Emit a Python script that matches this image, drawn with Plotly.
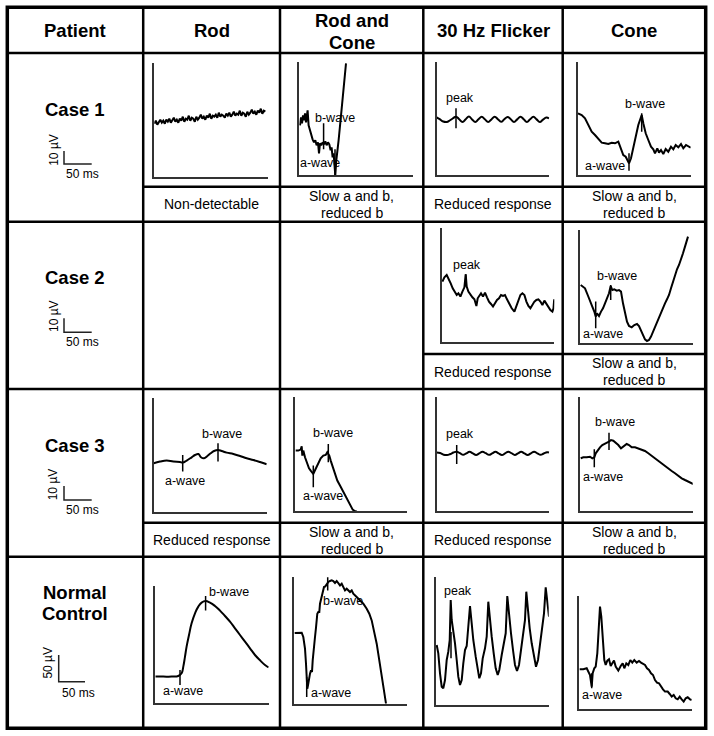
import plotly.graph_objects as go

# ---------------- table text ----------------
col_headers = ["Patient", "Rod", "Rod and|Cone", "30 Hz Flicker", "Cone"]
row_labels = ["Case 1", "Case 2", "Case 3", "Normal|Control"]
scale_v_labels = ["10 µV", "10 µV", "10 µV", "50 µV"]
scale_h_label = "50 ms"
comments_case1 = ["Non-detectable", "Slow a and b,|reduced b", "Reduced response", "Slow a and b,|reduced b"]
comments_case2 = ["", "", "Reduced response", "Slow a and b,|reduced b"]
comments_case3 = ["Reduced response", "Slow a and b,|reduced b", "Reduced response", "Slow a and b,|reduced b"]

# ---------------- traces (time offset, amplitude offset) ----------------
c1_rod_x = [0, 1.5, 3, 4.5, 6, 7.5, 9, 10.5, 12, 13.5, 15, 16.5, 18, 19.5, 21, 22.5, 24, 25.5, 27, 28.5,
            30, 31.5, 33, 34.5, 36, 37.5, 39, 40.5, 42, 43.5, 45, 46.5, 48, 49.5, 51, 52.5, 54, 55.5, 57, 58.5,
            60, 61.5, 63, 64.5, 66, 67.5, 69, 70.5, 72, 73.5, 75, 76.5, 78, 79.5, 81, 82.5, 84, 85.5, 87, 88.5,
            90, 91.5, 93, 94.5, 96, 97.5, 99, 100.5, 102, 103.5, 105, 106.5, 108, 109.5, 111]
c1_rod_y = [53, 56, 52, 55, 57, 54, 56, 53, 57, 55, 58, 54, 56, 59, 55, 57, 54, 58, 56, 60,
            55, 58, 57, 61, 56, 59, 58, 55, 60, 57, 59, 62, 58, 60, 57, 61, 59, 63, 58, 61,
            60, 62, 59, 64, 60, 62, 61, 59, 63, 61, 64, 60, 62, 65, 61, 63, 62, 66, 61, 64,
            63, 60, 65, 62, 64, 67, 63, 65, 62, 66, 64, 68, 63, 66, 65]

c1_rc_x = [0.7, 1.7, 2.7, 3.7, 4.7, 5.7, 6.7, 7.7, 8.3, 9.3, 10.7, 12, 13.3, 14.7, 16, 17.3, 18.7, 19.7, 20.7, 22,
           23.3, 24.7, 26, 27.3, 28.7, 30, 31.3, 32.3, 33.3, 34.3, 35.3, 36, 37, 38, 39.3, 42.3, 46.7]
c1_rc_y = [50, 58, 52, 60, 55, 62, 53, 60, 65, 50, 44, 40, 36, 33, 35, 30, 33, 22, 32, 30,
           33, 31, 34, 30, 33, 31, 25, 28, 18, 22, 5, 0, 15, 22, 35, 66, 112]

c1_flk_x = [0, 3, 6.5, 10, 13, 16, 19.3, 22.5, 25.8, 29, 32.2, 35.4, 38.6, 41.8, 45, 48.2, 51.5, 54.7, 58, 61.2,
            64.4, 67.6, 70.9, 74.1, 77.3, 80.5, 83.8, 87, 90.2, 93.4, 96.7, 99.9, 103.1, 106.3, 109.6, 112.3]
c1_flk_y = [57.5, 55.8, 53.5, 53, 54.5, 56.5, 58.3, 55.8, 53, 55.7, 58.4, 55.6, 53.1, 55.8, 58.2, 55.7, 52.9, 55.6,
            58.3, 55.8, 53.2, 55.7, 58.1, 55.7, 53, 55.6, 58.3, 55.8, 53.1, 55.7, 58.2, 55.6, 53, 55.4, 57.5, 56.5]

c1_cone_x = [0, 3.7, 7, 10.3, 13.7, 17, 20.3, 23.7, 27, 30.3, 33.7, 37, 40.3, 42, 43.7, 45.3, 47.7, 49.7, 51, 53,
             55.3, 58, 60.3, 62, 63.7, 65.3, 67.7, 70.3, 73, 75.3, 77, 79.3, 81, 83, 85.3, 87.7, 90.3, 93, 95.3,
             97.7, 100.3, 103, 105.3, 108, 110.3, 112.7]
c1_cone_y = [61.7, 60, 56.7, 50, 43.3, 40, 35.7, 32.3, 31.7, 31, 32.3, 31.7, 33.3, 28.3, 23.3, 20, 18.3, 13.3, 11.7,
             16.7, 28.3, 40, 50, 55, 60, 51.7, 41.7, 35, 28.3, 25.7, 21.7, 26.7, 22.3, 25, 21, 26, 23.3, 28.3,
             25.7, 30, 27.7, 31, 26.7, 30, 28.3, 27.3]

c2_flk_x = [0.7, 2.7, 5, 6.7, 9, 11, 13.3, 15, 16.7, 18.7, 20.7, 22.7, 24, 25, 26.7, 28.7, 30.7, 32.7, 34.7, 36,
            37.7, 39.3, 41.3, 43.3, 45.3, 47.3, 49.3, 51.3, 53.3, 55.3, 57.3, 59.3, 61.3, 63.3, 65.3, 67.3, 70,
            72.7, 74.7, 76.7, 78.7, 80.7, 82.7, 84.7, 86.7, 88.7, 90.7, 92.7, 94.7, 96.7, 98.7, 100.7, 102.7,
            104.7, 106.7, 108.7, 110.7, 111.8, 112.5]
c2_flk_y = [60.7, 65, 67.3, 64, 59, 54, 50.7, 47.3, 49, 45.7, 50.7, 55, 68, 55.7, 50.7, 47.3, 45, 43, 36.3, 44,
            47.3, 49, 45.7, 49.7, 45, 40.7, 38.3, 35.7, 39, 42.3, 44, 47.3, 46.3, 47.3, 43, 39, 34, 30.7, 35.7,
            40.7, 47.3, 49, 47.3, 40.7, 36.3, 34, 37.3, 40.7, 42.3, 43, 40.7, 37.3, 41.7, 38.3, 35.7, 32.3, 30.7,
            34, 43]

c2_cone_x = [0.7, 2.7, 5, 7.7, 10, 12.3, 14.3, 15.7, 17, 19, 21, 23, 25, 27, 29, 30.7, 32.3, 34.3, 36.7, 39,
             41, 43, 45, 47, 49, 51.7, 54.3, 57, 59, 61, 63, 65, 67, 69, 71, 73, 75, 77, 79, 81,
             83, 85, 87, 89, 91, 93, 95, 97, 99, 101, 103, 105, 107, 108]
c2_cone_y = [58.3, 56.7, 55, 48.3, 41.7, 36.7, 31.7, 26.7, 30, 27.3, 31.7, 35, 40, 45, 50, 57.3, 53.3, 54, 52.7,
             53.3, 51.7, 40, 30, 21.7, 17.3, 16, 18.3, 19.3, 17.3, 13.3, 8.3, 4, 2.3, 3.3, 6.7, 11.7, 16.7, 21.7,
             26.7, 30.7, 35, 40, 44, 48.3, 55, 61.7, 66.7, 74, 78.3, 83.3, 90, 96.7, 104, 106.7]

c3_rod_x = [0, 6.3, 13, 19.7, 26.3, 29, 33, 38, 41.3, 44.7, 47.3, 50.3, 53.7, 57, 60.3, 64.3, 68, 73, 79.7, 86.3,
            93, 99.7, 106.3, 113]
c3_rod_y = [49, 50.7, 51.7, 50.7, 50.3, 49.7, 51.7, 55, 57.3, 58.3, 55, 54, 56.3, 59, 61.3, 62.3, 61.3, 59.7, 58.3,
            56.3, 54, 52.3, 50.3, 48]

c3_rc_x = [0.7, 3.3, 5.7, 6.7, 7.3, 8.3, 10, 11.7, 14, 15.7, 17.3, 18.3, 19.3, 21, 23.3, 25.7, 28.3, 30.7, 32.3,
           34.3, 35.7, 37.7, 40, 42.3, 45, 47.7, 50, 52.7, 55, 57.7, 60, 61.7]
c3_rc_y = [60.7, 60.7, 61.7, 65, 55.7, 60.7, 54, 49, 43, 40.7, 39, 37.5, 39.5, 43, 49, 53, 55.7, 56.3, 59, 55.7,
           50.7, 44, 37.3, 30.7, 25.7, 20.7, 15.7, 10.7, 5.7, 1.7, 0, 0]

c3_flk_x = [0, 3.5, 7, 10.3, 13.6, 16.8, 20, 23.2, 26.5, 29.7, 32.9, 36.1, 39.4, 42.6, 45.8, 49, 52.3, 55.5, 58.7,
            61.9, 65.2, 68.4, 71.6, 74.8, 78.1, 81.3, 84.5, 87.7, 91, 94.2, 97.4, 100.6, 103.9, 107.1, 110.3, 112.3]
c3_flk_y = [58.5, 58, 56.3, 56, 57, 58.5, 59.3, 57.8, 56.2, 57.7, 59.2, 57.7, 56.1, 57.6, 59.3, 57.8, 56.2, 57.6,
            59.2, 57.7, 56, 57.6, 59.3, 57.8, 56.1, 57.7, 59.2, 57.6, 56.1, 57.7, 59.3, 57.7, 56.2, 57.5, 58.8, 58.5]

c3_cone_x = [0.7, 3.3, 6.7, 10, 12.3, 14.3, 15.7, 17.7, 20, 22.3, 25, 27, 29, 31, 33.3, 35.7, 38.3, 41, 43.7, 46.7,
             49, 51.7, 55, 58.3, 61.7, 65, 68.3, 71.7, 75, 78.3, 81.7, 85, 88.3, 91.7, 95, 98.3, 101.7, 105,
             108.3, 111.7, 113.3]
c3_cone_y = [52.7, 53.7, 53.7, 54.3, 52.7, 53.7, 57.7, 61, 63.7, 66, 67, 68.3, 69.3, 71, 70.3, 68.3, 66, 62.7, 65,
             67, 66, 63.7, 63.7, 62.7, 61, 60, 57.7, 55, 52.7, 50.3, 47.7, 45, 42.7, 40, 37.7, 35, 32.7, 31, 29.3,
             27.7, 27]

c4_rod_x = [0, 8, 16.3, 23, 26.3, 28, 29.7, 31.3, 33.7, 36.3, 39.7, 43, 46.3, 50.3, 54.7, 59.7, 64.7, 69.7, 74.7,
            79.7, 84.7, 89.7, 94.7, 99.7, 105, 109.7, 113.3]
c4_rod_y = [26.7, 26.7, 26.7, 27.3, 30, 36.7, 46.7, 56.7, 68.3, 80, 90, 96.7, 100.7, 102.3, 100.7, 97.3, 92.7,
            87.3, 81.7, 75, 68.3, 61.7, 55, 48.3, 42.7, 38.3, 36]

c4_rc_x = [0.7, 4.3, 7.7, 9.3, 11, 12, 12.7, 13.3, 14, 15, 16, 17, 18, 18.7, 19.7, 21, 22, 23.3, 24.3, 25.3,
           26, 27.3, 28.7, 30, 31.3, 32.7, 34.3, 36, 37.7, 39.3, 41, 42.7, 44.3, 46, 47.7, 49.3, 51, 52.7, 54.3,
           56, 57.7, 59.3, 62.7, 66, 69.3, 72.7, 75.3, 77.7, 80, 82.7, 85.3, 87.7, 90, 92]
c4_rc_y = [70.7, 70.7, 71, 66.7, 55, 40, 23.3, 15, 18.3, 26.7, 30, 33.3, 31.7, 43.3, 56.7, 66.7, 76, 90, 91.7,
           91.7, 100, 106.7, 113.3, 116.7, 117.3, 120, 121.7, 122.7, 123.3, 122.7, 120.7, 122.7, 120.7, 118.3,
           120, 116.7, 113.3, 115, 113.3, 111.7, 113.3, 110, 106.7, 103.3, 100, 95, 90, 83.3, 73.3, 60, 43.3,
           26.7, 10, 0]

c4_flk_x = [0.7, 2.3, 4, 5.7, 7.3, 9, 10.7, 12.3, 13.7, 14.7, 15.7, 17.7, 19, 20.7, 22.3, 24, 25.7, 27.3, 29,
            30.7, 32.3, 34, 35.7, 37.3, 39.7, 41.7, 43.3, 45, 46.7, 49, 50.7, 52.3, 54, 55.7, 57.7, 59.7, 61.7,
            63.3, 65.7, 67.7, 69.7, 71.3, 73, 75, 77, 79, 81, 83, 85, 87.3, 89, 90.3, 92, 93.7, 95.7, 98, 100,
            102, 104, 106.3, 108, 109.7, 111.3, 113]
c4_flk_y = [60, 51.7, 31.7, 18.3, 16.7, 25, 45, 53.3, 65, 105, 85, 71.7, 61.7, 45, 28.3, 20, 25, 41.7, 55, 59,
            78.3, 99, 81.7, 65, 48.3, 33.3, 26.7, 31.7, 46.7, 56.7, 68.3, 103.3, 83.3, 68.3, 51.7, 36.7, 30, 35,
            50, 61.7, 71.7, 109, 88.3, 71.7, 55, 40, 34, 40, 55, 71.7, 85, 113.3, 91.7, 76.7, 61.7, 46.7, 38.3,
            45, 61.7, 78.3, 91.7, 117.7, 101.7, 88.3]

c4_cone_x = [0.7, 4.3, 7.7, 9.3, 11, 12.7, 13.7, 15.3, 16.7, 18.3, 19.7, 21, 22.3, 23.7, 25.3, 26.7, 28.3, 30,
             31.7, 33.3, 35, 36.7, 39.3, 41.7, 43.7, 45.3, 47.3, 49.3, 51.3, 53.3, 55.3, 57.7, 60, 62, 64, 66,
             68, 70, 72, 74, 76, 78, 80, 82, 84, 86, 88.7, 90.7, 92.7, 94.7, 96.7, 98.7, 100.7, 102.7, 104.7,
             106.7, 108.7, 111, 112.7]
c4_cone_y = [40, 40, 41, 37.7, 34.3, 22.7, 36, 41, 42.7, 56, 79.3, 102.7, 92.7, 69.3, 49.3, 44.3, 48.7, 50, 43.3,
             46, 48.7, 42.7, 38.7, 43.3, 46, 41, 46, 44.3, 49.3, 46.7, 49.3, 46.7, 48.3, 46.7, 45.3, 44.3, 41,
             39.3, 36, 34.3, 29.3, 26.7, 26, 22.7, 20, 17.7, 17.7, 15.3, 12.7, 14.3, 11, 10, 12.7, 10, 7.7, 11,
             12, 10, 9.3]

# ---------------- layout helpers (pixel geometry of the table) ----------------
W, H = 714, 736
FONT = "Liberation Sans, Arial, Helvetica, sans-serif"

panels = [
    # box = (left, right, top, bottom) in page pixels
    dict(x=c1_rod_x, y=c1_rod_y, box=(154.3, 267.7, 63.3, 176.7), spline=False, ticks=[], labels=[]),
    dict(x=c1_rc_x, y=c1_rc_y, box=(299.3, 412.7, 61.5, 175.3), spline=False,
         ticks=[(24.3, 26, 52), (35.7, 0, 26)], labels=[("b-wave", 35.7, 57), ("a-wave", 21, 12)]),
    dict(x=c1_flk_x, y=c1_flk_y, box=(436.7, 549.3, 61.7, 175), spline=True,
         ticks=[(19.3, 46.7, 66.7)], labels=[("peak", 23.3, 77.3)]),
    dict(x=c1_cone_x, y=c1_cone_y, box=(578, 690.7, 61.7, 175), spline=False,
         ticks=[(51, 4.3, 21.7), (63.7, 43.3, 61.7)], labels=[("b-wave", 67, 71), ("a-wave", 27, 9)]),
    dict(x=c2_flk_x, y=c2_flk_y, box=(441.7, 554.3, 228.3, 342.3), spline=False,
         ticks=[(24, 55.7, 68)], labels=[("peak", 25, 77.3)]),
    dict(x=c2_cone_x, y=c2_cone_y, box=(580, 692.7, 230, 343.3), spline=False,
         ticks=[(15.7, 15, 41.7), (30.7, 43.3, 58.3)], labels=[("b-wave", 37.3, 67.7), ("a-wave", 22.7, 9.3)]),
    dict(x=c3_rod_x, y=c3_rod_y, box=(153.7, 266.7, 398.3, 512.3), spline=True,
         ticks=[(29, 40.7, 57.3), (64.3, 50.7, 69)], labels=[("b-wave", 68, 78.3), ("a-wave", 31.3, 31.3)]),
    dict(x=c3_rc_x, y=c3_rc_y, box=(295, 407.3, 397.3, 511.3), spline=False,
         ticks=[(18.3, 24, 45.7), (33.3, 49, 67.3)], labels=[("b-wave", 38.3, 78.3), ("a-wave", 28.3, 15)]),
    dict(x=c3_flk_x, y=c3_flk_y, box=(436.7, 549.3, 397.3, 511), spline=True,
         ticks=[(20, 47, 66)], labels=[("peak", 23.3, 77)]),
    dict(x=c3_cone_x, y=c3_cone_y, box=(580, 692.7, 397.3, 511), spline=False,
         ticks=[(14.3, 43.7, 61.7), (29, 61, 78.3)], labels=[("b-wave", 35, 89.3), ("a-wave", 22.7, 34.3)]),
    dict(x=c4_rod_x, y=c4_rod_y, box=(155.3, 268.7, 585.7, 703.3), spline=True,
         ticks=[(24.7, 18.3, 33.3), (50.3, 92.7, 107.3)], labels=[("b-wave", 74, 111.7), ("a-wave", 28, 12.7)]),
    dict(x=c4_rc_x, y=c4_rc_y, box=(294, 406.7, 577.3, 703.7), spline=False,
         ticks=[(12.7, 6.7, 26.7), (33.7, 113.3, 126.7)], labels=[("b-wave", 49.3, 102.7), ("a-wave", 36.7, 10.7)]),
    dict(x=c4_flk_x, y=c4_flk_y, box=(436, 548.7, 577.3, 705), spline=False,
         ticks=[(15, 46.7, 73)], labels=[("peak", 22.3, 114.3)]),
    dict(x=c4_cone_x, y=c4_cone_y, box=(579, 691.7, 596, 709.3), spline=False,
         ticks=[(12.7, 21, 36)], labels=[("b-wave", 32.7, 121), ("a-wave", 23.3, 14.3)]),
]

fig = go.Figure()
shapes = []
annotations = []
layout_axes = {}

# background pixel axis for the table grid
layout_axes["xaxis"] = dict(domain=[0, 1], range=[0, W], visible=False, fixedrange=True)
layout_axes["yaxis"] = dict(domain=[0, 1], range=[H, 0], visible=False, fixedrange=True)
fig.add_trace(go.Scatter(x=[0], y=[0], mode="markers", marker=dict(opacity=0), xaxis="x", yaxis="y",
                         showlegend=False, hoverinfo="skip"))


def hline(y, x0, x1, w=2.5):
    shapes.append(dict(type="line", xref="x", yref="y", x0=x0, x1=x1, y0=y, y1=y,
                       line=dict(color="black", width=w)))


def vline(x, y0, y1, w=2.5):
    shapes.append(dict(type="line", xref="x", yref="y", x0=x, x1=x, y0=y0, y1=y1,
                       line=dict(color="black", width=w)))


def text(t, x, y, size=14, bold=False, angle=0):
    annotations.append(dict(text=("<b>%s</b>" % t) if bold else t, x=x, y=y, xref="x", yref="y",
                            showarrow=False, textangle=angle, xanchor="center", yanchor="middle",
                            font=dict(family=FONT, size=size, color="black")))


# grid
col_x = [7.3, 143.2, 280, 423.3, 562.7, 705.7]
row_y = [7.3, 53, 186.7, 221.7, 354, 389, 522.7, 556.7, 728.3]
for x in col_x[1:-1]:
    vline(x, row_y[0], row_y[-1])
for y in [53, 221.7, 389, 556.7]:
    hline(y, col_x[0], col_x[-1])
hline(186.7, col_x[1], col_x[-1])
hline(522.7, col_x[1], col_x[-1])
hline(354, col_x[3], col_x[-1])
# outer frame
shapes.append(dict(type="rect", xref="x", yref="y", x0=col_x[0], x1=col_x[-1], y0=row_y[0], y1=row_y[-1],
                   line=dict(color="black", width=3.5)))

# headers
hdr_cx = [75.2, 211.6, 351.6, 493.2, 634.2]
for cx, h in zip(hdr_cx, col_headers):
    parts = h.split("|")
    if len(parts) == 1:
        text(parts[0], cx, 30.5, size=18.5, bold=True)
    else:
        text(parts[0], cx, 20.5, size=18.5, bold=True)
        text(parts[1], cx, 42.5, size=18.5, bold=True)

# patient column
row_label_y = [109, 277.7, 445.7, 592.3]
for lab, ly in zip(row_labels, row_label_y):
    parts = lab.split("|")
    if len(parts) == 1:
        text(parts[0], 75, ly, size=18.5, bold=True)
    else:
        text(parts[0], 75, ly, size=18.5, bold=True)
        text(parts[1], 75, ly + 21.5, size=18.5, bold=True)

# scale bars: (bar x, top y, corner y, right x, v-label x, v-label y, h-label x, h-label y)
scale_bars = [
    (64, 151, 164, 91.7, 53.3, 149.5, 82.3, 174),
    (64, 318.3, 332.3, 91.7, 53.3, 315.7, 82.3, 342.3),
    (64, 486, 500, 91.7, 53.3, 484, 82.3, 510),
    (58.7, 655, 681.7, 85, 48.3, 662.3, 78.3, 692.7),
]
for (bx, ty, cy, rx, vlx, vly, hlx, hly), vlab in zip(scale_bars, scale_v_labels):
    shapes.append(dict(type="path", xref="x", yref="y",
                       path="M %f,%f L %f,%f L %f,%f" % (bx, ty, bx, cy, rx, cy),
                       line=dict(color="#222", width=1.5)))
    text(vlab, vlx, vly, size=12, angle=-90)
    text(scale_h_label, hlx, hly, size=12)

# comment rows
cell_cx = [211.6, 351.6, 493.2, 634.2]
for comments, cy in [(comments_case1, 204.3), (comments_case2, 371.5), (comments_case3, 540)]:
    for cx, c in zip(cell_cx, comments):
        if not c:
            continue
        parts = c.split("|")
        if len(parts) == 1:
            text(parts[0], cx, cy, size=14)
        else:
            text(parts[0], cx, cy - 8.5, size=14)
            text(parts[1], cx, cy + 8.5, size=14)

# panels
for i, p in enumerate(panels):
    n = i + 2
    L, R, T, B = p["box"]
    xa, ya = "x%d" % n, "y%d" % n
    common = dict(showgrid=False, zeroline=False, showticklabels=False, ticks="", fixedrange=True,
                  showline=True, linecolor="#333", linewidth=1.5, mirror=False)
    layout_axes["xaxis%d" % n] = dict(domain=[L / W, R / W], range=[0, R - L], anchor=ya, **common)
    layout_axes["yaxis%d" % n] = dict(domain=[1 - B / H, 1 - T / H], range=[0, B - T], anchor=xa, **common)
    line_style = dict(color="black", width=2)
    if p["spline"]:
        line_style.update(shape="spline", smoothing=1.3)
    fig.add_trace(go.Scatter(x=p["x"], y=p["y"], mode="lines", xaxis=xa, yaxis=ya, showlegend=False,
                             hoverinfo="skip", line=line_style))
    for tx, y0, y1 in p["ticks"]:
        shapes.append(dict(type="line", xref=xa, yref=ya, x0=tx, x1=tx, y0=y0, y1=y1,
                           line=dict(color="black", width=1.5)))
    for t, lx, ly in p["labels"]:
        annotations.append(dict(text=t, x=lx, y=ly, xref=xa, yref=ya, showarrow=False,
                                xanchor="center", yanchor="middle",
                                font=dict(family=FONT, size=12.5, color="black")))

fig.update_layout(width=W, height=H, margin=dict(l=0, r=0, t=0, b=0), paper_bgcolor="white",
                  plot_bgcolor="rgba(0,0,0,0)", shapes=shapes, annotations=annotations, showlegend=False,
                  **layout_axes)

fig.write_html("out.html", config={"displayModeBar": False},
               post_script="document.body.style.margin='0';")
